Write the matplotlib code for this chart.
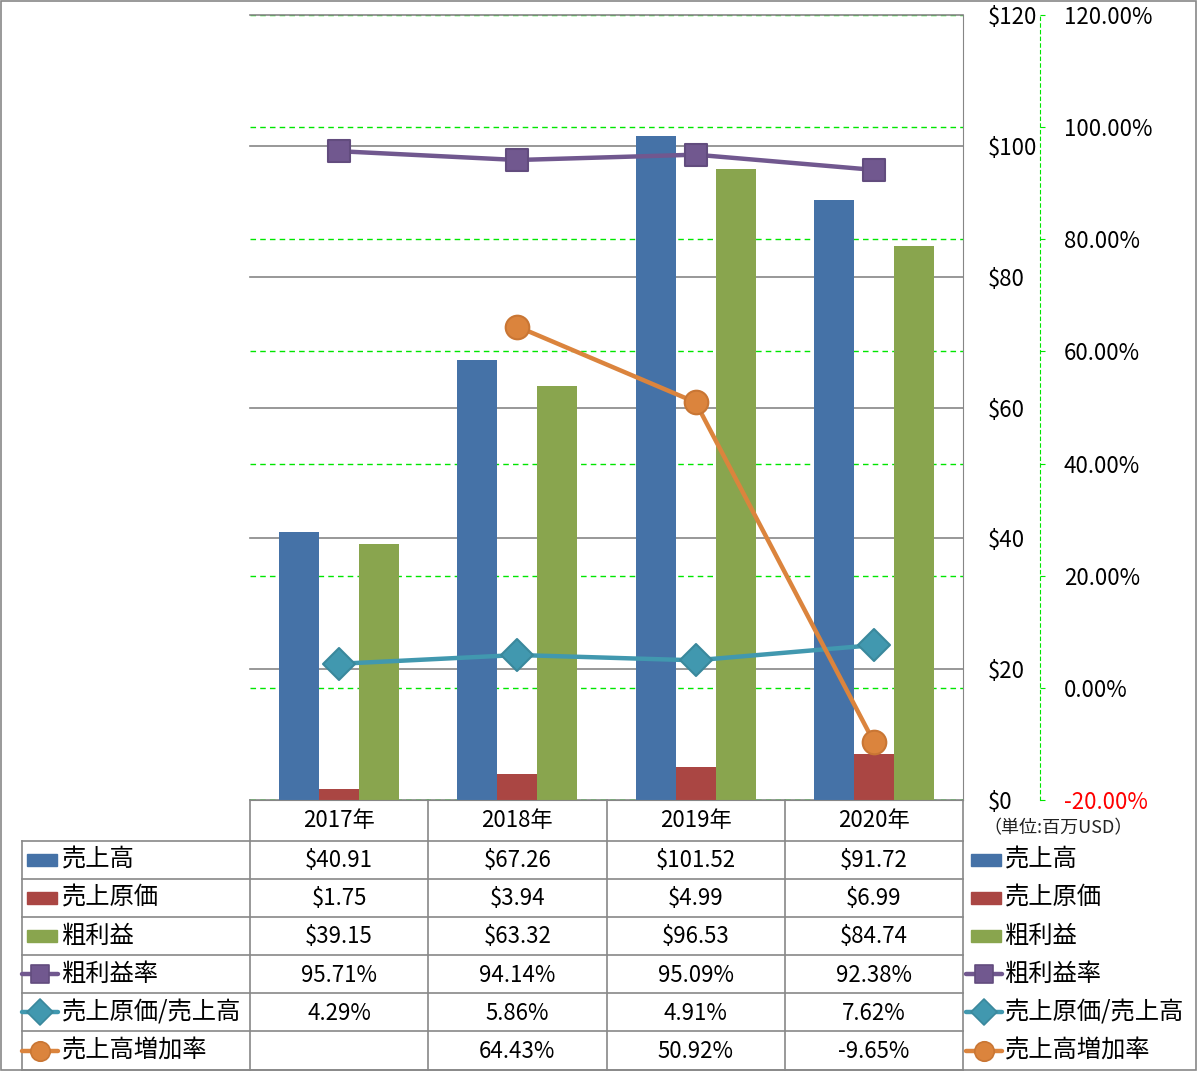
import numpy as np
import matplotlib
matplotlib.use('Agg')
import matplotlib.pyplot as plt
from matplotlib.markers import MarkerStyle
from matplotlib.patches import Rectangle

plt.rcParams['font.family'] = ['Noto Sans CJK JP', 'DejaVu Sans']

# data
years = ['2017年', '2018年', '2019年', '2020年']
sales = [40.91, 67.26, 101.52, 91.72]
cogs = [1.75, 3.94, 4.99, 6.99]
gross = [39.15, 63.32, 96.53, 84.74]
gross_margin = [95.71, 94.14, 95.09, 92.38]
cogs_ratio = [4.29, 5.86, 4.91, 7.62]
growth = [np.nan, 64.43, 50.92, -9.65]

bar_names = ['売上高', '売上原価', '粗利益']
line_names = ['粗利益率', '売上原価/売上高', '売上高増加率']
bar_colors = ['#4572A7', '#AA4643', '#89A54E']
line_colors = ['#71588F', '#4198AF', '#DB843D']
line_edges = ['#624C7E', '#3A889C', '#C97634']
line_markers = ['s', 'D', 'o']
line_ms = [16, 16, 17]

W, H = 1197, 1071
fig = plt.figure(figsize=(W / 100, H / 100), dpi=100)
px = 72 / 100  # points per pixel

# plot area in pixels
L, R, T, B = 250, 963, 15, 800
grid_gray = '#868686'
green = '#00E600'

ax = fig.add_axes([L / W, 1 - B / H, (R - L) / W, (B - T) / H])
ax2 = ax.twinx()
ax3 = ax.twinx()
ax2.set_zorder(1)
ax.set_zorder(2)
ax3.set_zorder(3)
for a in (ax, ax3):
    a.patch.set_visible(False)

x = np.arange(len(years))
ax.set_xlim(-0.5, len(years) - 0.5)
ax.set_ylim(0, 120)
bw = 0.224
for i, (vals, c) in enumerate(zip([sales, cogs, gross], bar_colors)):
    ax.bar(x + (i - 1) * bw, vals, width=bw, color=c, zorder=2)

# primary axis (right side, $ labels)
ax.set_yticks(range(0, 121, 20))
ax.set_yticklabels([f'${v}' for v in range(0, 121, 20)])
ax.yaxis.tick_right()
ax.tick_params(axis='y', length=0, pad=25 * px, labelsize=16)
ax.set_xticks([])
for s in ['left', 'top']:
    ax.spines[s].set_visible(False)
ax.spines['right'].set_color(grid_gray)
ax.spines['bottom'].set_color(grid_gray)

# secondary axis (percent)
pct_ticks = list(range(-20, 121, 20))
for a in (ax2, ax3):
    a.set_ylim(-20, 120)
ax2.set_yticks(pct_ticks)
ax2.set_yticklabels([f'{t:.2f}%' for t in pct_ticks])
ax2.tick_params(axis='y', length=5 * px, color=green, pad=19 * px, labelsize=16)
ax2.spines['right'].set_position(('outward', 77 * px))
ax2.spines['right'].set_color(green)
ax2.spines['right'].set_linestyle((0, (3, 3)))
for s in ['left', 'top', 'bottom']:
    ax2.spines[s].set_visible(False)
ax2.set_xticks([])

# green dashed gridlines (secondary) behind bars
ax2.grid(axis='y', color=green, linestyle=(0, (4, 3)), linewidth=1, zorder=0.4)
ax2.set_axisbelow(True)

# primary gray gridlines, also under bars
for v in range(20, 121, 20):
    yv = -20 + v / 120 * 140
    ax2.axhline(yv, color=grid_gray, lw=1.2, zorder=0.6, clip_on=False)

ax3.axis('off')
for vals, c, ec, m, ms in zip([gross_margin, cogs_ratio, growth], line_colors, line_edges, line_markers, line_ms):
    ax3.plot(x, vals, color=c, lw=3.2, marker=MarkerStyle(m, joinstyle='round'),
             ms=ms, mfc=c, mec=ec, mew=1.5, zorder=3)

# table drawn in pixel coordinates
tab = fig.add_axes([0, 0, 1, 1], zorder=0)
tab.set_xlim(0, W)
tab.set_ylim(H, 0)
tab.axis('off')
tab.patch.set_visible(False)

lc = '#888888'
cw = (R - L) / len(years)
col_edges = [L + i * cw for i in range(len(years) + 1)]
rows = [841, 879, 917, 955, 993, 1031, 1070]
tab.plot([L, R], [B, B], color=lc, lw=1.2)
for xe in col_edges:
    tab.plot([xe, xe], [B, H], color=lc, lw=1.2)
for ye in rows:
    tab.plot([22, R], [ye, ye], color=lc, lw=1.2)
tab.plot([22, 22], [rows[0], H], color=lc, lw=1.2)
tab.add_patch(Rectangle((0.5, 0.5), W - 1.5, H - 1.5, fill=False, ec=lc, lw=1.2))

for i, yr in enumerate(years):
    tab.text(L + (i + 0.5) * cw, (B + rows[0]) / 2, yr, ha='center', va='center', fontsize=16)

row_vals = [[f'${v:.2f}' for v in sales], [f'${v:.2f}' for v in cogs],
            [f'${v:.2f}' for v in gross],
            [f'{v:.2f}%' for v in gross_margin], [f'{v:.2f}%' for v in cogs_ratio],
            ['' if np.isnan(v) else f'{v:.2f}%' for v in growth]]
names = bar_names + line_names
for r, vals in enumerate(row_vals):
    yc = (rows[r] + rows[r + 1]) / 2 + 1
    for i, s in enumerate(vals):
        tab.text(L + (i + 0.5) * cw, yc, s, ha='center', va='center', fontsize=16)


def legend_icon(x0, yc, r):
    if r < 3:
        tab.add_patch(Rectangle((x0 + 5, yc - 6), 30, 12, color=bar_colors[r]))
    else:
        k = r - 3
        tab.plot([x0, x0 + 36], [yc, yc], color=line_colors[k], lw=3.2, solid_capstyle='round')
        tab.plot([x0 + 18], [yc], marker=MarkerStyle(line_markers[k], joinstyle='round'),
                 ms=line_ms[k] - 3, color=line_colors[k], mec=line_edges[k], mew=1.2)


for r, nm in enumerate(names):
    yc = (rows[r] + rows[r + 1]) / 2
    legend_icon(22, yc, r)
    tab.text(62, yc, nm, ha='left', va='center', fontsize=17.5)
    legend_icon(966, yc, r)
    tab.text(1005, yc, nm, ha='left', va='center', fontsize=17.5)

tab.text(983, 828, '（単位:百万USD）', ha='left', va='center', fontsize=13, color='#222222')

# negative percent label in red
fig.canvas.draw()
for tk in ax2.yaxis.get_major_ticks():
    if tk.get_loc() < 0:
        tk.label1.set_color('red')
        tk.label2.set_color('red')

fig.savefig('out.png', dpi=100)
